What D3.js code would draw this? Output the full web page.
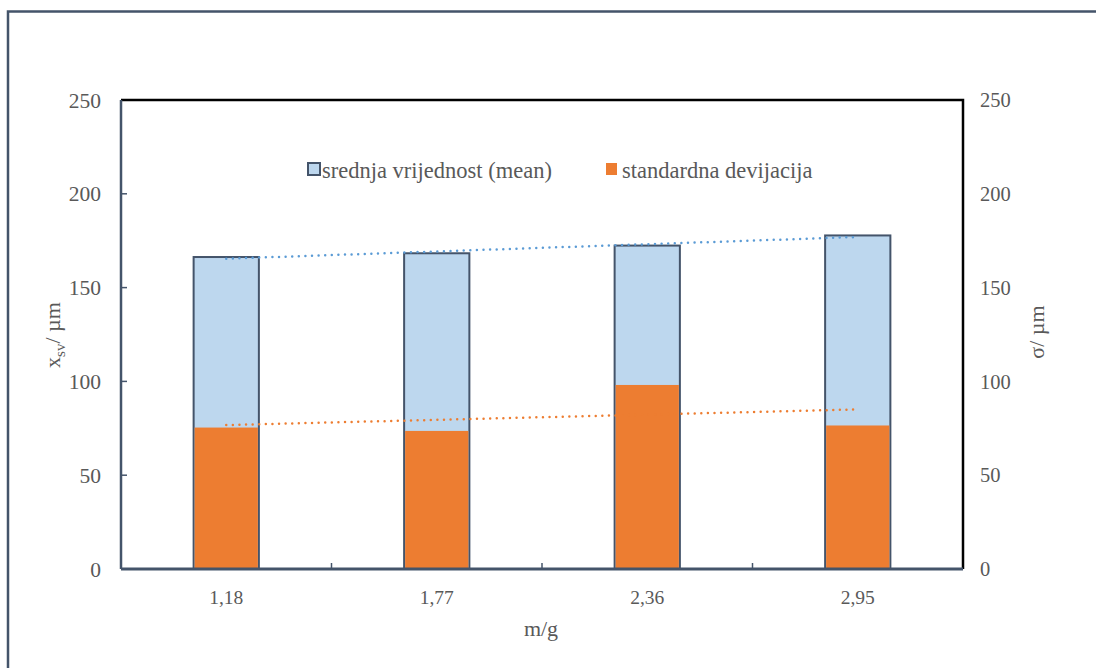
<!DOCTYPE html>
<html><head><meta charset="utf-8">
<script src="https://cdn.jsdelivr.net/npm/d3@7"></script>
<style>body{margin:0;background:#fff}svg{display:block}</style>
</head><body>
<svg id="c" width="1096" height="668" font-family="Liberation Serif"></svg>
<script>
const categories = ["1,18","1,77","2,36","2,95"];
const meanValues = [166.3,168.3,172.4,177.8];
const sdValues = [75.4,73.6,98.1,76.5];
const yTicks = [0,50,100,150,200,250];
const seriesNames = ["srednja vrijednost (mean)","standardna devijacija"];

const svg = d3.select("#c");
const W=1096,H=668;
const m={left:121,top:100,right:963,bottom:569};
const x=d3.scaleBand().domain(categories).range([m.left,m.right]).paddingInner(0.69).paddingOuter(0.345);
const y=d3.scaleLinear().domain([0,250]).range([m.bottom,m.top]);
const y2=d3.scaleLinear().domain([0,250]).range([m.bottom,m.top]);
const axisCol="#44546A", txtCol="#595959";

svg.append("path").attr("d",`M8,${H+5} V11.5 H${W+5}`).attr("fill","none").attr("stroke",axisCol).attr("stroke-width",2.5);
svg.append("path").attr("d",`M${m.left},${m.top} H${m.right} V${m.bottom}`).attr("fill","none").attr("stroke","#000").attr("stroke-width",2.5);

const g=svg.append("g");
g.selectAll("rect.mean").data(meanValues).join("rect").attr("class","mean")
 .attr("x",(d,i)=>x(categories[i])).attr("width",x.bandwidth())
 .attr("y",d=>y(d)).attr("height",d=>y(0)-y(d))
 .attr("fill","#BDD7EE").attr("stroke",axisCol).attr("stroke-width",2);
g.selectAll("rect.sd").data(sdValues).join("rect").attr("class","sd")
 .attr("x",(d,i)=>x(categories[i])+1).attr("width",x.bandwidth()-2)
 .attr("y",d=>y2(d)).attr("height",d=>y2(0)-y2(d))
 .attr("fill","#ED7D31");

function trend(vals){
  const xs=vals.map((_,i)=>i+1);
  const mx=d3.mean(xs), my=d3.mean(vals);
  const s=d3.sum(xs.map((xi,i)=>(xi-mx)*(vals[i]-my)))/d3.sum(xs.map(xi=>(xi-mx)**2));
  return xs.map(xi=>my+s*(xi-mx));
}
const cx=c=>x(c)+x.bandwidth()/2;
function drawTrend(vals,sc,col){
  const t=trend(vals);
  svg.append("line").attr("x1",cx(categories[0])).attr("x2",cx(categories[categories.length-1]))
   .attr("y1",sc(t[0])).attr("y2",sc(t[t.length-1]))
   .attr("stroke",col).attr("stroke-width",2.5).attr("stroke-dasharray","0 6.6").attr("stroke-linecap","round");
}
drawTrend(meanValues,y,"#5B9BD5");
drawTrend(sdValues,y2,"#ED7D31");

const la=svg.append("g");
la.append("line").attr("x1",m.left).attr("x2",m.left).attr("y1",m.top).attr("y2",m.bottom).attr("stroke",axisCol).attr("stroke-width",2.5);
la.selectAll("line.t").data(yTicks.filter(v=>v>0&&v<250)).join("line").attr("class","t")
 .attr("x1",m.left).attr("x2",m.left+6).attr("y1",d=>y(d)).attr("y2",d=>y(d)).attr("stroke",axisCol).attr("stroke-width",1.5);
la.selectAll("text").data(yTicks).join("text").attr("x",101).attr("y",d=>y(d)).attr("dy","0.35em")
 .attr("text-anchor","end").attr("font-size",21.5).attr("fill",txtCol).text(d=>d);

svg.append("g").selectAll("text").data(yTicks).join("text").attr("x",980).attr("y",d=>y2(d)).attr("dy","0.35em")
 .attr("text-anchor","start").attr("font-size",20.5).attr("fill",txtCol).text(d=>d);

const ba=svg.append("g");
ba.append("line").attr("x1",m.left).attr("x2",m.right).attr("y1",m.bottom).attr("y2",m.bottom).attr("stroke",axisCol).attr("stroke-width",3);
ba.selectAll("line.t").data(categories.slice(1)).join("line").attr("class","t")
 .attr("x1",d=>x(d)-x.step()*x.paddingInner()/2).attr("x2",d=>x(d)-x.step()*x.paddingInner()/2)
 .attr("y1",m.bottom).attr("y2",m.bottom-6).attr("stroke",axisCol).attr("stroke-width",1.5);
ba.selectAll("text").data(categories).join("text").attr("x",d=>cx(d)).attr("y",597).attr("dy","0.35em")
 .attr("text-anchor","middle").attr("font-size",19.5).attr("fill",txtCol).text(d=>d);

svg.append("text").attr("x",541).attr("y",628).attr("dy","0.35em").attr("text-anchor","middle").attr("font-size",22).attr("fill",txtCol).text("m/g");
const lt=svg.append("text").attr("transform","translate(52,335) rotate(-90)").attr("text-anchor","middle").attr("dy","0.35em").attr("font-size",22).attr("fill",txtCol);
lt.append("tspan").text("x");
lt.append("tspan").attr("font-size",15).attr("dy","5").text("sv");
lt.append("tspan").attr("dy","-5").text("/ µm");
svg.append("text").attr("transform","translate(1036,332) rotate(-90)").attr("text-anchor","middle").attr("dy","0.35em").attr("font-size",22).attr("fill",txtCol).text("σ/ µm");

const lg=svg.append("g");
lg.append("rect").attr("x",308).attr("y",163).attr("width",12).attr("height",12).attr("fill","#BDD7EE").attr("stroke",axisCol).attr("stroke-width",2);
lg.append("text").attr("x",322).attr("y",170).attr("dy","0.35em").attr("font-size",22.5).attr("fill",txtCol).text(seriesNames[0]);
lg.append("rect").attr("x",606).attr("y",163).attr("width",11).attr("height",12).attr("fill","#ED7D31");
lg.append("text").attr("x",622).attr("y",170).attr("dy","0.35em").attr("font-size",22.5).attr("fill",txtCol).text(seriesNames[1]);
</script>
</body></html>
